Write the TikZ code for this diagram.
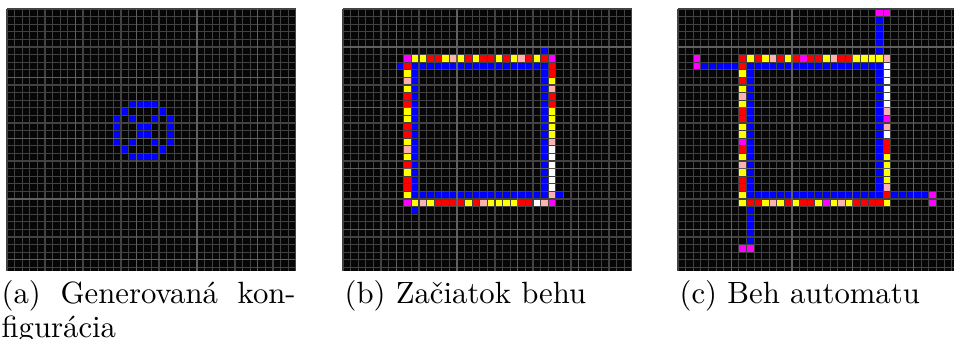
\documentclass[tikz,border=0pt]{standalone}
\definecolor{cB}{RGB}{0,0,255}
\definecolor{cR}{RGB}{255,0,0}
\definecolor{cY}{RGB}{255,255,0}
\definecolor{cP}{RGB}{255,176,176}
\definecolor{cM}{RGB}{255,0,255}
\definecolor{cW}{RGB}{255,255,255}
\definecolor{cBg}{RGB}{6,6,6}
\definecolor{cThin}{RGB}{66,66,66}
\definecolor{cMajor}{RGB}{96,96,96}
\tikzset{
  gridthin/.style={draw=cThin, line width=0.32pt},
  gridmajor/.style={draw=cMajor, line width=0.34pt},
  captext/.style={inner sep=0pt, font=\fontsize{9.6}{10.7}\selectfont},
}
% single cell: X0, col, row, colour letter
\newcommand\mycell[4]{\fill[fill=c#4] ({#1+#2*7.6},{9+#3*7.6}) rectangle ++(7.6,7.6);}
% horizontal run of listed colours: X0, row, first col, list
\newcommand\myhrow[4]{\foreach \cc [count=\ii from 0] in {#4} {\fill[fill=c\cc] ({#1+(#3+\ii)*7.6},{9+#2*7.6}) rectangle ++(7.6,7.6);}}
% vertical run of listed colours: X0, col, first row, list
\newcommand\myvcol[4]{\foreach \cc [count=\ii from 0] in {#4} {\fill[fill=c\cc] ({#1+#2*7.6},{9+(#3+\ii)*7.6}) rectangle ++(7.6,7.6);}}
% blue horizontal run: X0, row, c1, c2
\newcommand\mybh[4]{\foreach \kk in {#3,...,#4} {\fill[fill=cB] ({#1+\kk*7.6},{9+#2*7.6}) rectangle ++(7.6,7.6);}}
% blue vertical run: X0, col, r1, r2
\newcommand\mybv[4]{\foreach \kk in {#3,...,#4} {\fill[fill=cB] ({#1+#2*7.6},{9+\kk*7.6}) rectangle ++(7.6,7.6);}}
% grid lines: X0, major cols list, major rows list
\newcommand\mygridlines[3]{%
  \foreach \kk in {0,...,38} {\draw[gridthin] ({#1+\kk*7.6},9) -- ++(0,262);}
  \foreach \kk in {0,...,34} {\draw[gridthin] (#1,{9+\kk*7.6}) -- ++(288.8,0);}
  \foreach \kk in {#2} {\draw[gridmajor] ({#1+\kk*7.6},9) -- ++(0,262);}
  \foreach \kk in {#3} {\draw[gridmajor] (#1,{9+\kk*7.6}) -- ++(288.8,0);}
}
\begin{document}
\begin{tikzpicture}[x=0.3125pt, y=-0.3125pt]
\useasboundingbox (0,0) rectangle (954,339);
\clip (0,0) rectangle (954,339);
% ---------------- panel (a)
\fill[cBg] (7,9) rectangle ++(288.8,262);
\mybh{7}{12}{16}{19}
\mycell{7}{15}{13}{B}\mycell{7}{20}{13}{B}
\mycell{7}{14}{14}{B}\mycell{7}{16}{14}{B}\mycell{7}{19}{14}{B}\mycell{7}{21}{14}{B}
\mycell{7}{14}{15}{B}\mycell{7}{17}{15}{B}\mycell{7}{18}{15}{B}\mycell{7}{21}{15}{B}
\mycell{7}{14}{16}{B}\mycell{7}{17}{16}{B}\mycell{7}{18}{16}{B}\mycell{7}{21}{16}{B}
\mycell{7}{14}{17}{B}\mycell{7}{16}{17}{B}\mycell{7}{19}{17}{B}\mycell{7}{21}{17}{B}
\mycell{7}{15}{18}{B}\mycell{7}{20}{18}{B}
\mybh{7}{19}{16}{19}
\mygridlines{7}{9,17,25,33}{9,17,25,33}
% ---------------- panel (b)
\fill[cBg] (343,9) rectangle ++(288.8,262);
\myhrow{343}{6}{8}{M,Y,Y,R,R,Y,P,Y,R,Y,R,R,Y,R,Y,P,R,Y,R,M}
\myhrow{343}{25}{8}{M,Y,P,Y,R,R,R,R,Y,R,P,Y,Y,Y,Y,R,R,W,P,M}
\myvcol{343}{8}{7}{R,Y,P,Y,R,R,Y,Y,R,R,Y,P,Y,R,Y,R,R,Y}
\myvcol{343}{27}{7}{R,R,Y,P,R,R,Y,Y,Y,Y,P,W,W,W,W,W,W,P}
\mybh{343}{7}{9}{26}
\mybh{343}{24}{9}{26}
\mybv{343}{9}{8}{23}
\mybv{343}{26}{8}{23}
\mycell{343}{7}{7}{B}\mycell{343}{26}{5}{B}\mycell{343}{28}{24}{B}\mycell{343}{9}{26}{B}
\mygridlines{343}{7,15,23,31}{5,13,21,29}
% ---------------- panel (c)
\fill[cBg] (678,9) rectangle ++(288.8,262);
\myhrow{678}{6}{8}{R,Y,R,Y,P,R,Y,R,M,R,R,Y,P,R,R,Y,Y,Y,Y,P}
\myhrow{678}{25}{8}{Y,R,R,Y,P,Y,R,Y,R,R,Y,M,Y,P,Y,R,R,R,R,Y}
\myvcol{678}{8}{7}{R,Y,R,Y,P,Y,R,R,Y,Y,M,R,Y,P,Y,R,R,Y}
\myvcol{678}{27}{7}{W,W,W,W,W,W,P,M,P,W,R,R,Y,Y,Y,Y,P,R}
\mybh{678}{7}{3}{7}\mybh{678}{7}{9}{26}
\mybh{678}{24}{9}{26}\mybh{678}{24}{28}{32}
\mybv{678}{9}{8}{23}\mybv{678}{9}{26}{30}
\mybv{678}{26}{1}{5}\mybv{678}{26}{8}{23}
\mycell{678}{2}{6}{M}\mycell{678}{2}{7}{M}
\mycell{678}{26}{0}{M}\mycell{678}{27}{0}{M}
\mycell{678}{33}{24}{M}\mycell{678}{33}{25}{M}
\mycell{678}{8}{31}{M}\mycell{678}{9}{31}{M}
\mygridlines{678}{7,15,23,31}{5,13,21,29}
% ---------------- captions
\node[captext, text width=91.9pt, align=justify, anchor=base west] (capa) at (1,303.5)
  {(a) Generovaná kon-\linebreak figurácia};
\node[captext, anchor=base west] (capb) at (344,303.5) {(b) Začiatok behu};
\node[captext, anchor=base west] (capc) at (679,303.5) {(c) Beh automatu};
\end{tikzpicture}
\end{document}
